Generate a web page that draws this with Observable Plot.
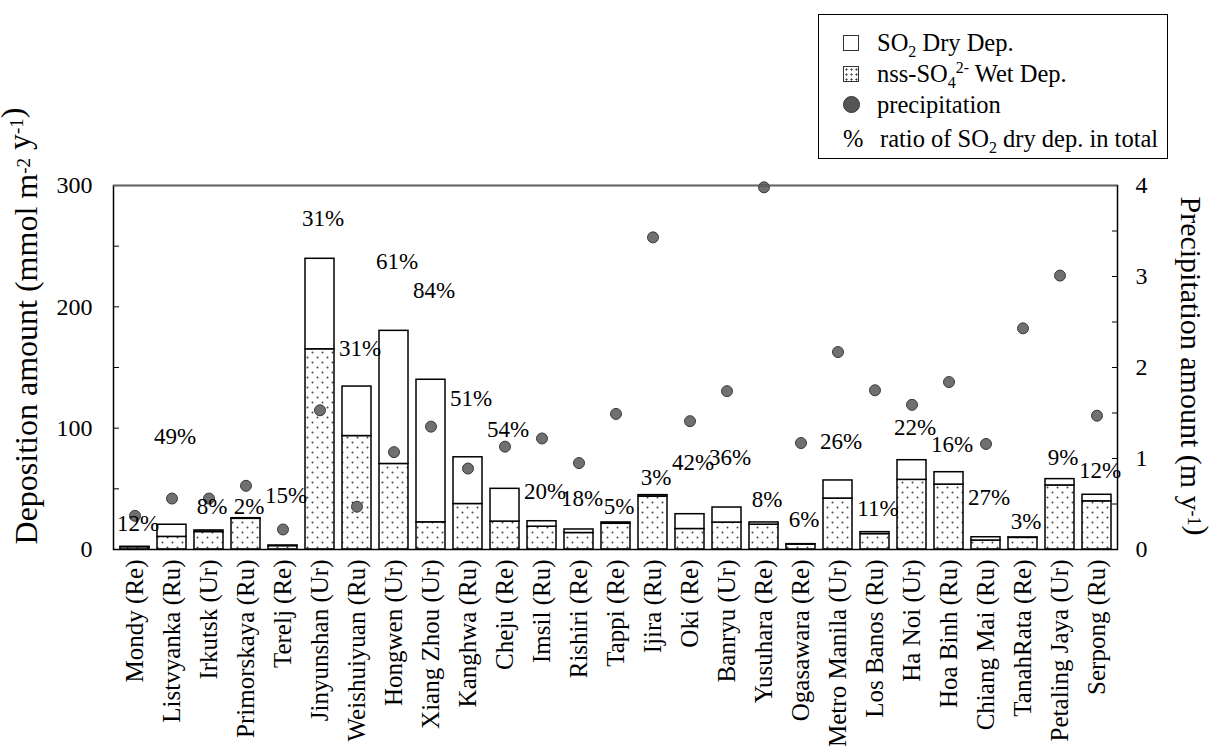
<!DOCTYPE html>
<html><head><meta charset="utf-8">
<script src="https://cdn.jsdelivr.net/npm/d3@7"></script>
<script src="https://cdn.jsdelivr.net/npm/@observablehq/plot@0.6"></script>
<style>
body{margin:0;background:#fff;font-family:'Liberation Serif','Times New Roman',serif;color:#000;}
#wrap{position:relative;width:1209px;height:751px;overflow:hidden;}
#legend{position:absolute;left:818px;top:14px;width:350px;height:145px;border:1.5px solid #000;box-sizing:border-box;font-size:24.5px;background:#fff;}
#legend .row{position:absolute;left:0;height:30px;line-height:30px;white-space:nowrap;}
#legend .sw{position:absolute;left:24px;top:7px;width:16px;height:16px;box-sizing:border-box;border:1px solid #333;background:#fff;}
#legend .sw.dots{background-image:radial-gradient(circle,#444 0.9px,transparent 1.2px);background-size:5px 5px;background-color:#fff;}
#legend .sw.dot{border-radius:50%;background:#555;border:1px solid #333;width:17px;height:17px;left:24px;top:6px;}
#legend .pc{position:absolute;left:24px;top:0;}
#legend .lt{position:absolute;left:58px;top:0;}
#legend sub,#legend sup{font-size:16px;line-height:0;}
</style></head><body>
<div id="wrap"><div id="chart"></div>
<div id="legend">
 <div class="row" style="top:13px"><span class="sw"></span><span class="lt">SO<sub>2</sub> Dry Dep.</span></div>
 <div class="row" style="top:44px"><span class="sw dots"></span><span class="lt">nss-SO<sub>4</sub><sup>2-</sup> Wet Dep.</span></div>
 <div class="row" style="top:75px"><span class="sw dot"></span><span class="lt">precipitation</span></div>
 <div class="row" style="top:109px"><span class="pc">%</span><span class="lt" style="left:61px">ratio of SO<sub>2</sub> dry dep. in total</span></div>
</div>
</div>
<script>
const sites = ["Mondy (Re)","Listvyanka (Ru)","Irkutsk (Ur)","Primorskaya (Ru)","Terelj (Re)","Jinyunshan (Ur)","Weishuiyuan (Ru)","Hongwen (Ur)","Xiang Zhou (Ur)","Kanghwa (Ru)","Cheju (Re)","Imsil (Ru)","Rishiri (Re)","Tappi (Re)","Ijira (Ru)","Oki (Re)","Banryu (Ur)","Yusuhara (Re)","Ogasawara (Re)","Metro Manila (Ur)","Los Banos (Ru)","Ha Noi (Ur)","Hoa Binh (Ru)","Chiang Mai (Ru)","TanahRata (Re)","Petaling Jaya (Ur)","Serpong (Ru)"];
const wetDep = [1.9,10.4,14.4,25.3,2.8,165,93.5,70.5,22.4,37.5,23,18.8,13.6,21.2,43.5,16.9,22.2,20.5,4.1,42,12.7,57.4,53.5,7.4,9.6,52.8,39.7];
const dryDep = [0.3,10.0,1.3,0.5,0.5,74.6,40.8,109.7,117.5,38.5,27,4.5,2.9,1.1,1.3,12.2,12.4,1.8,0.3,14.9,1.6,16.2,10.2,2.7,0.3,5.2,5.4];
const precipitation = [0.37,0.56,0.56,0.70,0.22,1.53,0.47,1.07,1.35,0.89,1.13,1.22,0.95,1.49,3.43,1.41,1.74,3.98,1.17,2.17,1.75,1.59,1.84,1.16,2.43,3.01,1.47];
const dryRatioPct = [12,49,8,2,15,31,31,61,84,51,54,20,18,5,3,42,36,8,6,26,11,22,16,27,3,9,12];
const pctLabelY = [21.4,93,35,35,44.5,272.5,165.4,237.6,213.5,124.7,98.9,48,41.8,35.4,59.6,71.5,75.6,41.2,24.7,89.3,34,100.8,86.3,43.1,23.3,76,65];
const depTicks = [0,100,200,300];
const precipTicks = [0,1,2,3,4];
const precipMax = 4, depMax = 300;
const k = depMax / precipMax;

const rows = sites.map((site,i)=>({site, wet:wetDep[i], dry:dryDep[i], precip:precipitation[i], pct:dryRatioPct[i], ly:pctLabelY[i]}));

const chart = Plot.plot({
  width:1209, height:751,
  marginLeft:113, marginRight:92, marginTop:185, marginBottom:202,
  style:{fontFamily:"'Liberation Serif', 'Times New Roman', serif", background:"white", color:"black"},
  x:{type:"band", domain:sites, paddingInner:0.22, paddingOuter:0.11},
  y:{domain:[0,depMax], label:null},
  marks:[
    Plot.barY(rows,{x:"site", y1:()=>0, y2:"wet", fill:"url(#dots)", stroke:"black", strokeWidth:1.5}),
    Plot.barY(rows,{x:"site", y1:"wet", y2:d=>d.wet+d.dry, fill:"white", stroke:"black", strokeWidth:1.5}),
    Plot.dot(rows,{x:"site", y:d=>d.precip*k, r:5.5, fill:"#707070", stroke:"#3a3a3a", strokeWidth:1}),
    Plot.text(rows,{x:"site", y:"ly", text:d=>d.pct+"%", dx:3, fontSize:23}),
    Plot.frame({stroke:"black", strokeWidth:1.5}),
    Plot.ruleY([depMax],{stroke:"#666", strokeWidth:1.5}),
    Plot.axisY({ticks:[50,100,150,200,250], tickSize:-6, fill:"none", label:null}),
    Plot.axisY({anchor:"right", ticks:d3.range(k/2, depMax, k/2), tickSize:-6, fill:"none", label:null}),
    Plot.axisY({ticks:depTicks, tickSize:0, tickPadding:21, fontSize:24, label:null}),
    Plot.axisY({anchor:"right", ticks:precipTicks.map(v=>v*k), tickFormat:d=>d/k, tickSize:0, tickPadding:18, fontSize:24, label:null}),
    Plot.axisX({tickRotate:-90, tickSize:0, tickPadding:10, fontSize:25, label:null})
  ]
});

const svg = d3.select(chart);
const defs = svg.insert("defs",":first-child");
const pat = defs.append("pattern").attr("id","dots").attr("width",10).attr("height",10).attr("patternUnits","userSpaceOnUse");
pat.append("rect").attr("width",10).attr("height",10).attr("fill","white");
pat.append("circle").attr("cx",2.5).attr("cy",2.5).attr("r",1).attr("fill","#444");
pat.append("circle").attr("cx",7.5).attr("cy",7.5).attr("r",1).attr("fill","#444");

function title(x, y, rot, size, parts){
  const t = svg.append("text").attr("transform",`translate(${x},${y}) rotate(${rot})`)
    .attr("text-anchor","middle").attr("fill","black")
    .style("font-family","'Liberation Serif', 'Times New Roman', serif").style("font-size",size+"px");
  parts.forEach(p=>{
    if (typeof p === "string") t.append("tspan").text(p);
    else { t.append("tspan").attr("dy",-7).style("font-size",Math.round(size*0.6)+"px").text(p.sup); t.append("tspan").attr("dy",7).text(""); }
  });
}
title(37, 326, -90, 32, ["Deposition amount (mmol m",{sup:"-2"}," y",{sup:"-1"},")"]);
title(1181, 366, 90, 30, ["Precipitation amount (m y",{sup:"-1"},")"]);

document.getElementById("chart").appendChild(chart);
</script>
</body></html>
